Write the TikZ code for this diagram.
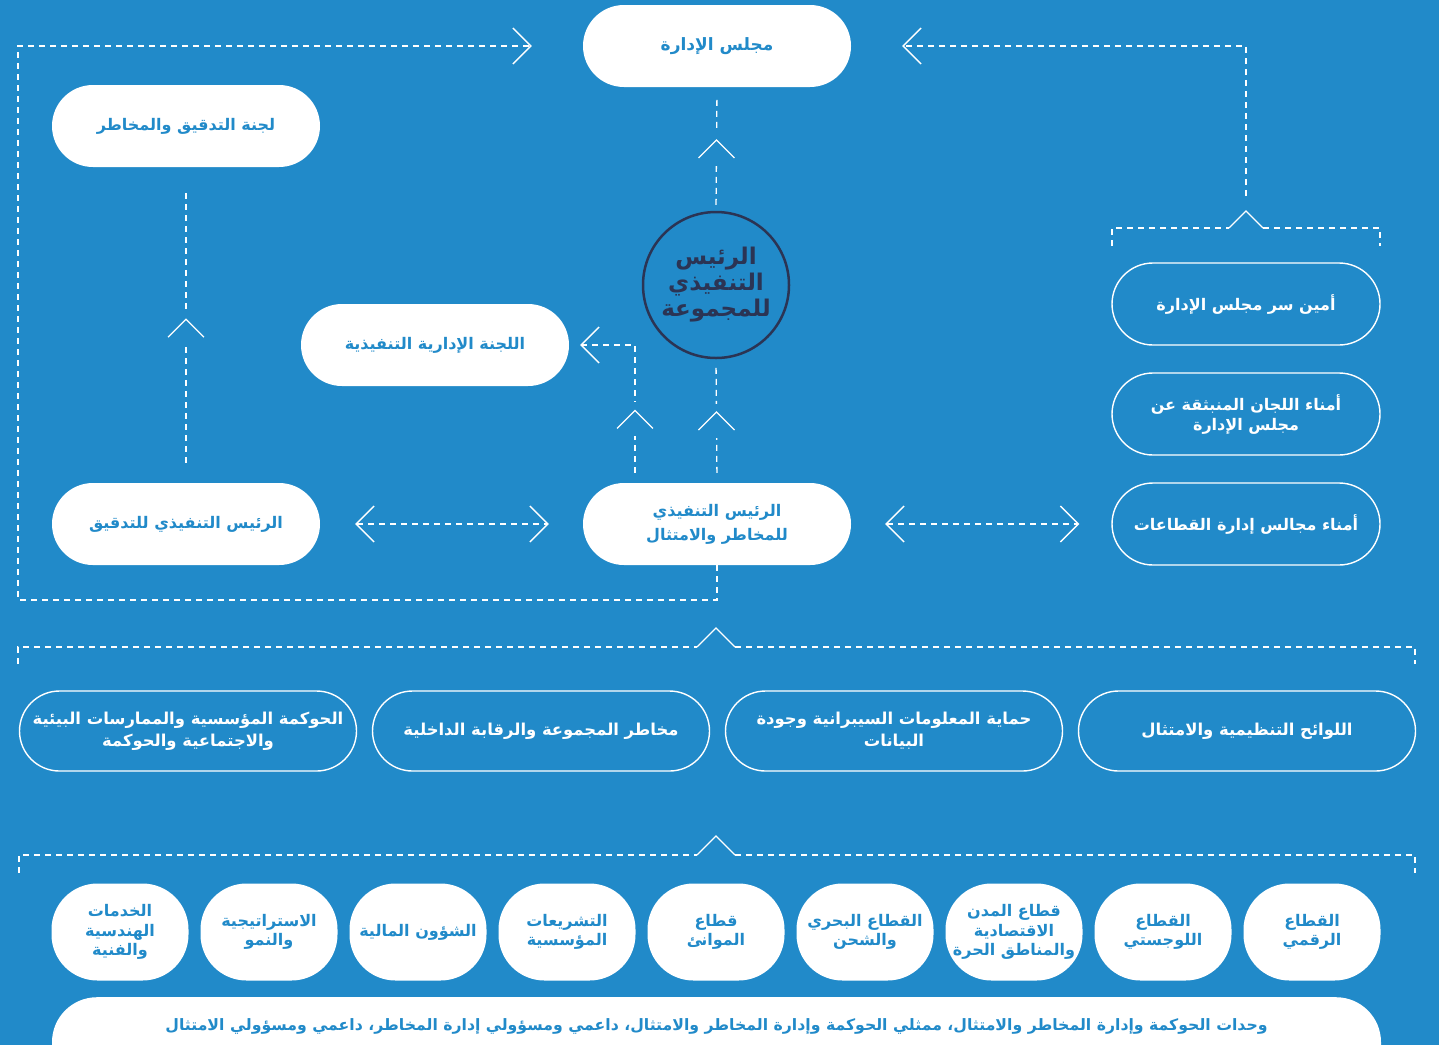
\documentclass[tikz,border=0pt]{standalone}
\usepackage{fontspec}
\usetikzlibrary{arrows.meta}
\newfontfamily\arabicfont[Script=Arabic]{DejaVu Sans}
\TeXXeTstate=1
\definecolor{bgblue}{RGB}{33,138,201}
\definecolor{navy}{RGB}{43,52,84}
\newcommand{\artext}[1]{\beginR#1\endR}

\begin{document}
\begin{tikzpicture}[x=1pt,y=-1pt]
  \tikzstyle{base}=[align=center, inner sep=0pt, font={\arabicfont\bfseries\fontsize{16}{21}\selectfont}]
  \tikzstyle{whitepill}=[base, fill=white, text=bgblue, minimum width=268pt, minimum height=82pt, rounded corners=41pt]
  \tikzstyle{linepill}=[base, draw=white, line width=1.4pt, text=white, minimum width=268pt, minimum height=82pt, rounded corners=41pt]
  \tikzstyle{rowpill}=[linepill, minimum width=337pt, minimum height=80pt, rounded corners=40pt, font={\arabicfont\bfseries\fontsize{16.4}{22}\selectfont}]
  \tikzstyle{unitbox}=[base, fill=white, text=bgblue, minimum width=137pt, minimum height=97pt, rounded corners=46pt, font={\arabicfont\bfseries\fontsize{16}{19.5}\selectfont}]
  \tikzstyle{dashline}=[white, line width=1.3pt, dash pattern=on 6pt off 5pt]
  \tikzstyle{chev}=[white, line width=1.2pt, solid]
  \tikzstyle{gapmark}=[fill=bgblue, minimum width=20pt, minimum height=34pt, inner sep=0pt]
  \tikzstyle{opentip}=[-{Straight Barb[length=18pt,width=36pt]}]
  \tikzstyle{bothtips}=[{Straight Barb[length=18pt,width=36pt]}-{Straight Barb[length=18pt,width=36pt]}]

  \useasboundingbox (0,0) rectangle (1439,1045);
  \clip (0,0) rectangle (1439,1045);
  \fill[bgblue] (0,0) rectangle (1439,1045);

  \node[whitepill, font={\arabicfont\bfseries\fontsize{17}{21}\selectfont}] (board) at (717,46) {\artext{مجلس الإدارة}};
  \node[whitepill] (audit) at (186,126) {\artext{لجنة التدقيق والمخاطر}};
  \node[whitepill] (exco) at (435,345) {\artext{اللجنة الإدارية التنفيذية}};
  \node[circle, draw=navy, line width=2.5pt, minimum size=146pt, align=center, inner sep=0pt, text=navy,
        font={\arabicfont\bfseries\fontsize{23}{26}\selectfont}] (ceo) at (716,285)
        {\artext{الرئيس}\\\artext{التنفيذي}\\\artext{للمجموعة}};
  \node[whitepill, font={\arabicfont\bfseries\fontsize{16}{24}\selectfont}] (crco) at (717,524) {\artext{الرئيس التنفيذي}\\\artext{للمخاطر والامتثال}};
  \node[whitepill] (cae) at (186,524) {\artext{الرئيس التنفيذي للتدقيق}};

  \node[linepill] (secretary) at (1246,304) {\artext{أمين سر مجلس الإدارة}};
  \node[linepill, font={\arabicfont\bfseries\fontsize{16}{20}\selectfont}] (committees) at (1246,414) {\artext{أمناء اللجان المنبثقة عن}\\\artext{مجلس الإدارة}};
  \node[linepill] (sectors) at (1246,524) {\artext{أمناء مجالس إدارة القطاعات}};

  \node[rowpill] (esg) at (188,731) {\artext{الحوكمة المؤسسية والممارسات البيئية}\\\artext{والاجتماعية والحوكمة}};
  \node[rowpill] (grouprisk) at (541,731) {\artext{مخاطر المجموعة والرقابة الداخلية}};
  \node[rowpill] (cyber) at (894,731) {\artext{حماية المعلومات السيبرانية وجودة}\\\artext{البيانات}};
  \node[rowpill] (regulatory) at (1247,731) {\artext{اللوائح التنظيمية والامتثال}};

  \node[unitbox] (engineering) at (120,932) {\artext{الخدمات}\\\artext{الهندسية}\\\artext{والفنية}};
  \node[unitbox] (strategy) at (269,932) {\artext{الاستراتيجية}\\\artext{والنمو}};
  \node[unitbox] (finance) at (418,932) {\artext{الشؤون المالية}};
  \node[unitbox] (legal) at (567,932) {\artext{التشريعات}\\\artext{المؤسسية}};
  \node[unitbox] (ports) at (716,932) {\artext{قطاع}\\\artext{الموانئ}};
  \node[unitbox] (maritime) at (865,932) {\artext{القطاع البحري}\\\artext{والشحن}};
  \node[unitbox] (cities) at (1014,932) {\artext{قطاع المدن}\\\artext{الاقتصادية}\\\artext{والمناطق الحرة}};
  \node[unitbox] (logistics) at (1163,932) {\artext{القطاع}\\\artext{اللوجستي}};
  \node[unitbox] (digital) at (1312,932) {\artext{القطاع}\\\artext{الرقمي}};

  \node[base, fill=white, text=bgblue, anchor=north, minimum width=1329pt, rounded corners=45pt,
        font={\arabicfont\bfseries\fontsize{15.7}{19}\selectfont},
        inner ysep=10pt, text height=23pt, text depth=70pt] (units) at (716.5,997)
        {\artext{وحدات الحوكمة وإدارة المخاطر والامتثال، ممثلي الحوكمة وإدارة المخاطر والامتثال، داعمي ومسؤولي إدارة المخاطر، داعمي ومسؤولي الامتثال}};

  \coordinate (loopcorner) at (18,600);
  \coordinate (secpeak) at (1246,211);
  \coordinate (rowpeak) at (716,628);
  \coordinate (unitpeak) at (716,836);

  \draw[dashline, opentip, shorten >=51pt] (crco.south) |- (loopcorner) |- (board.west);
  \draw[dashline, opentip, shorten <=15pt, shorten >=51pt] (secpeak) |- (board.east);

  \draw[dashline, shorten <=6pt, shorten >=10pt] (ceo.north) -- node[gapmark] (g1) {} (board.south);
  \draw[chev] (g1) ++(-18,9) -- ++(18,-18) -- ++(18,18);
  \draw[dashline, shorten <=10pt, shorten >=8pt] (crco.north) -- node[gapmark] (g2) {} (ceo.south);
  \draw[chev] (g2) ++(-18,9) -- ++(18,-18) -- ++(18,18);
  \draw[dashline, opentip, shorten <=10pt, shorten >=11pt] ([xshift=-82pt]crco.north) |- node[gapmark, pos=0.23] (g3) {} (exco.east);
  \draw[chev] (g3) ++(-18,9) -- ++(18,-18) -- ++(18,18);
  \draw[dashline, shorten <=20pt, shorten >=26pt] (cae.north) -- node[gapmark, pos=0.49] (g4) {} (audit.south);
  \draw[chev] (g4) ++(-18,9) -- ++(18,-18) -- ++(18,18);

  \draw[dashline, bothtips, shorten <=35pt, shorten >=34pt] (cae.east) -- (crco.west);
  \draw[dashline, bothtips, shorten <=34pt, shorten >=32pt] (crco.east) -- (sectors.west);

  \draw[dashline] (1112,246) |- (1229,228);
  \draw[chev] (1229,228) -- (secpeak) -- (1263,228);
  \draw[dashline] (1263,228) -| (1380,246);

  \draw[dashline] (18,664) |- (697,647);
  \draw[chev] (697,647) -- (rowpeak) -- (735,647);
  \draw[dashline] (735,647) -| (1415,664);

  \draw[dashline] (19,873) |- (697,855);
  \draw[chev] (697,855) -- (unitpeak) -- (735,855);
  \draw[dashline] (735,855) -| (1415,873);
\end{tikzpicture}
\end{document}
